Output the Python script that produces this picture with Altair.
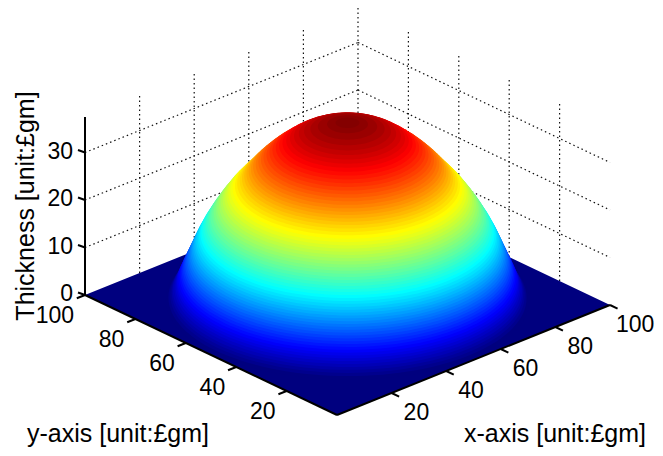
import math
import altair as alt
import pandas as pd

# Thickness levels and the radius of the dome at each level
THICKNESS = [0.0, 0.5, 1.0, 1.5, 2.0, 2.5, 3.0, 3.5, 4.0, 4.5, 5.0, 5.5, 6.0, 6.5, 7.0, 7.5, 8.0, 8.5, 9.0, 9.5,
             10.0, 10.5, 11.0, 11.5, 12.0, 12.5, 13.0, 13.5, 14.0, 14.5, 15.0, 15.5, 16.0, 16.5, 17.0, 17.5, 18.0, 18.5, 19.0, 19.5,
             20.0, 20.5, 21.0, 21.5, 22.0, 22.5, 23.0, 23.5, 24.0, 24.5, 25.0, 25.5, 26.0, 26.5, 27.0, 27.5, 28.0, 28.5, 29.0, 29.5,
             30.0, 30.5, 31.0, 31.5, 32.0, 32.5, 33.0, 33.5, 34.0, 34.5, 35.0, 35.5, 36.0, 36.5, 37.0, 37.3]
RADIUS = [49.0, 48.2, 47.7, 47.3, 47.0, 46.6, 46.3, 46.0, 45.8, 45.5, 45.2, 44.9, 44.6, 44.3, 44.0, 43.7, 43.4, 43.1, 42.8, 42.5,
          42.2, 41.9, 41.6, 41.3, 41.0, 40.7, 40.3, 40.0, 39.6, 39.3, 38.9, 38.5, 38.1, 37.7, 37.3, 36.9, 36.4, 36.0, 35.5, 35.1,
          34.6, 34.1, 33.6, 33.1, 32.6, 32.1, 31.5, 30.9, 30.3, 29.7, 29.0, 28.4, 27.8, 27.2, 26.6, 26.0, 25.4, 24.7, 24.0, 23.3,
          22.6, 21.8, 21.0, 20.2, 19.3, 18.4, 17.5, 16.5, 15.5, 14.4, 13.1, 11.7, 10.0, 8.0, 5.5, 3.2]
TOP = 37.5
TICKS_XY = [20, 40, 60, 80, 100]
TICKS_Z = [0, 10, 20, 30]

W, H = 647, 440
FONT = "Liberation Sans"
FS = 23
TITLE_FS = 25

# orthographic view: data (x, y, z) -> picture position
def proj(x, y, z=0.0):
    return (337 + 2.73 * x - 2.52 * y, 415 - 1.10 * x - 1.20 * y - 4.75 * z)

X = alt.X("sx:Q", scale=alt.Scale(domain=[8, 8 + W], nice=False, zero=False), axis=None)
Y = alt.Y("sy:Q", scale=alt.Scale(domain=[8 + H, 8], nice=False, zero=False), axis=None)

# dome: stacked discs, painted bottom to top
rows = []
ax, ay = proj(1, 0)[0] - proj(0, 0)[0], proj(1, 0)[1] - proj(0, 0)[1]
bx, by = proj(0, 1)[0] - proj(0, 0)[0], proj(0, 1)[1] - proj(0, 0)[1]
t0 = math.atan2(bx, ax)
N = 64
for i, (z, r) in enumerate(zip(THICKNESS, RADIUS)):
    cx, cy = proj(50, 50, z)
    for k in range(N + 1):
        u = math.pi * (1 - k / N)
        t1, t2 = t0 + u, t0 - u
        rows.append({
            "ring": i, "z": z,
            "sx": cx + r * (ax * math.cos(t1) + bx * math.sin(t1)),
            "sy": cy + r * (ay * math.cos(t1) + by * math.sin(t1)),
            "sy2": cy + r * (ay * math.cos(t2) + by * math.sin(t2)),
        })
dome = pd.DataFrame(rows)

jet = alt.Scale(
    domain=[0, 0.125 * TOP, 0.375 * TOP, 0.625 * TOP, 0.875 * TOP, TOP],
    range=["#00007f", "#0000ff", "#00ffff", "#ffff00", "#ff0000", "#7f0000"],
    interpolate="rgb",
)
dome_layer = alt.Chart(dome).mark_area(opacity=1).encode(
    x=X, y=Y, y2="sy2:Q",
    color=alt.Color("z:Q", scale=jet, legend=None),
    detail="ring:N",
)

# floor plate
L, F, R, B = proj(0, 100), proj(0, 0), proj(100, 0), proj(100, 100)
def edge(p, q, sx):
    return p[1] + (q[1] - p[1]) * (sx - p[0]) / (q[0] - p[0])
def upper(sx):
    return edge(L, B, sx) if sx <= B[0] else edge(B, R, sx)
def lower(sx):
    return edge(L, F, sx) if sx <= F[0] else edge(F, R, sx)
plate = pd.DataFrame([{"sx": p[0], "sy": upper(p[0]), "sy2": lower(p[0])} for p in sorted([L, F, B, R])])
plate_layer = alt.Chart(plate).mark_area(color="#00007f").encode(x=X, y=Y, y2="sy2:Q")

# dotted wall grid
def seg(a, b):
    return {"sx": a[0], "sy": a[1], "sx2": b[0], "sy2": b[1]}
grid = []
for z in TICKS_Z[1:]:
    grid.append(seg(proj(0, 100, z), proj(100, 100, z)))
    grid.append(seg(proj(100, 100, z), proj(100, 0, z)))
for v in TICKS_XY:
    grid.append(seg(proj(v, 100, 0), proj(v, 100, TOP)))
for v in TICKS_XY[:-1]:
    grid.append(seg(proj(100, v, 0), proj(100, v, TOP)))
grid_layer = alt.Chart(pd.DataFrame(grid)).mark_rule(color="#111111", strokeWidth=1.2, strokeDash=[1.5, 3]).encode(
    x=X, y=Y, x2="sx2:Q", y2="sy2:Q"
)

# axes
lines = [seg(proj(0, 100, 0), proj(0, 100, TOP)),
         seg(proj(0, 100, 0), proj(0, 0, 0)),
         seg(proj(0, 0, 0), proj(100, 0, 0))]
for z in TICKS_Z:
    p = proj(0, 100, z)
    lines.append(seg(p, (p[0] - 7, p[1] - 2.5)))
for v in TICKS_XY:
    lines.append(seg(proj(v, 0, 0), proj(v, -3, 0)))
    lines.append(seg(proj(0, v, 0), proj(-3, v, 0)))
axis_layer = alt.Chart(pd.DataFrame(lines)).mark_rule(color="black", strokeWidth=2).encode(
    x=X, y=Y, x2="sx2:Q", y2="sy2:Q"
)

def text_layer(rows, align, angle=0, size=FS):
    return alt.Chart(pd.DataFrame(rows)).mark_text(
        font=FONT, fontSize=size, align=align, baseline="middle", color="black", angle=angle
    ).encode(x=X, y=Y, text="t:N")

z_labels = [{"sx": 73, "sy": proj(0, 100, z)[1] - 1, "t": str(z)} for z in TICKS_Z]
y_labels = [{"sx": proj(0, v)[0] - 11, "sy": proj(0, v)[1] + 21, "t": str(v)} for v in TICKS_XY]
# the last label is kept inside the drawable width of the page
x_labels = [{"sx": min(proj(v, 0)[0] + 12, 616), "sy": proj(v, 0)[1] + 20, "t": str(v)} for v in TICKS_XY]

chart = alt.layer(
    grid_layer, plate_layer, dome_layer, axis_layer,
    text_layer(z_labels, "right"),
    text_layer(y_labels, "right"),
    text_layer(x_labels, "left"),
    text_layer([{"sx": 27, "sy": 434, "t": "y-axis [unit:£gm]"}], "left", size=TITLE_FS),
    text_layer([{"sx": 464, "sy": 434, "t": "x-axis [unit:£gm]"}], "left", size=TITLE_FS),
    text_layer([{"sx": 26, "sy": 206, "t": "Thickness [unit:£gm]"}], "center", angle=270, size=TITLE_FS),
).properties(
    width=W, height=H,
    autosize=alt.AutoSizeParams(type="none"),
    padding=0,
).configure_view(stroke=None)

chart.save("out.html", embed_options={"renderer": "svg", "actions": False})
